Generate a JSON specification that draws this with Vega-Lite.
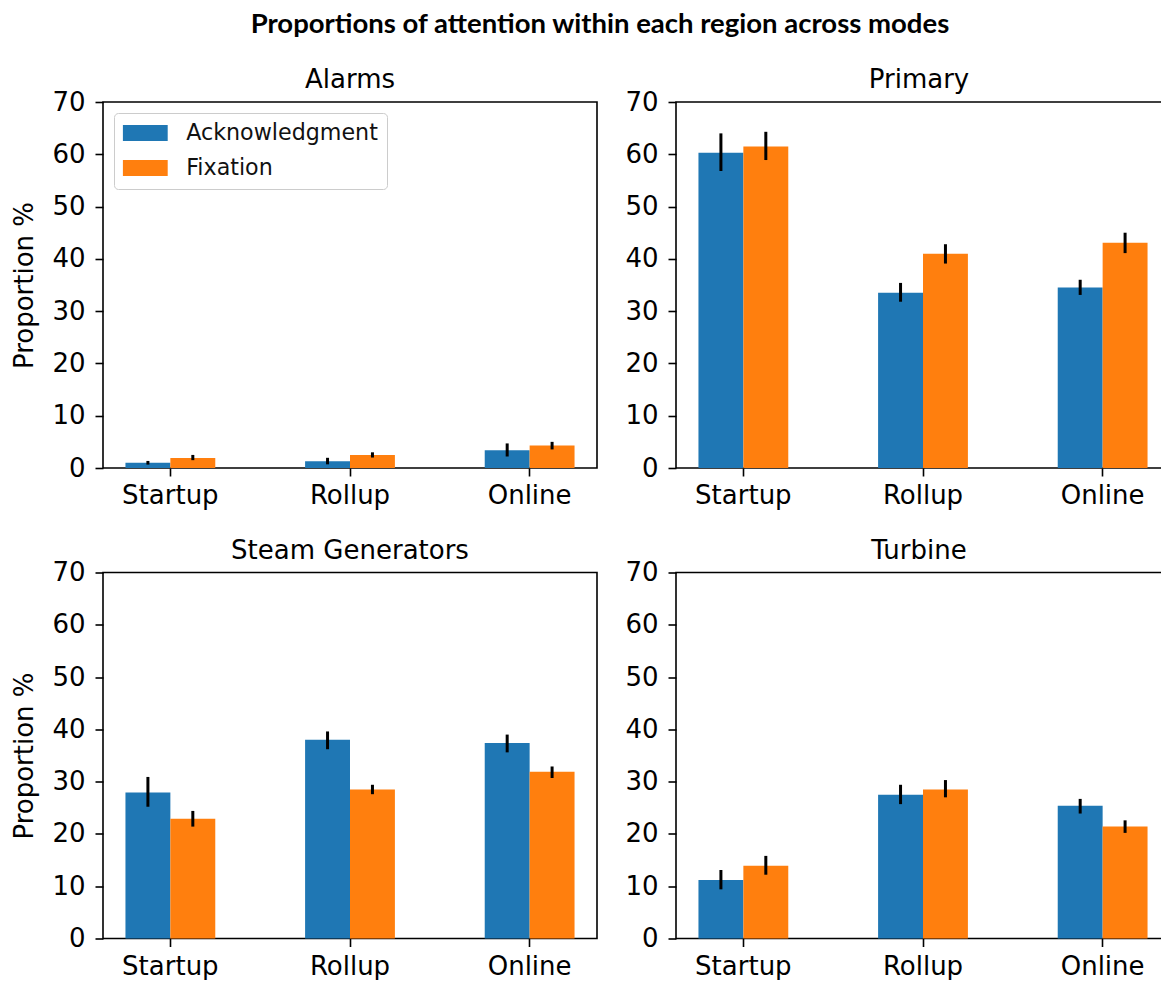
{
  "$schema": "https://vega.github.io/schema/vega-lite/v6.json",
  "padding": {"left": 11, "top": 10, "right": 0, "bottom": 0},
  "background": "white",
  "title": {
    "text": "Proportions of attention within each region across modes",
    "font": "Lato",
    "fontWeight": "bold",
    "fontSize": 27.5,
    "color": "black",
    "anchor": "middle",
    "frame": "bounds",
    "baseline": "alphabetic",
    "dx": 9,
    "offset": 6
  },
  "data": {
    "values": [
      {"region": "Alarms", "mode": "Startup", "measure": "Acknowledgment", "value": 1.0, "low": 0.65, "high": 1.35},
      {"region": "Alarms", "mode": "Startup", "measure": "Fixation", "value": 1.9, "low": 1.5, "high": 2.5},
      {"region": "Alarms", "mode": "Rollup", "measure": "Acknowledgment", "value": 1.3, "low": 0.7, "high": 1.95},
      {"region": "Alarms", "mode": "Rollup", "measure": "Fixation", "value": 2.5, "low": 2.0, "high": 3.0},
      {"region": "Alarms", "mode": "Online", "measure": "Acknowledgment", "value": 3.4, "low": 2.2, "high": 4.7},
      {"region": "Alarms", "mode": "Online", "measure": "Fixation", "value": 4.3, "low": 3.55, "high": 5.0},
      {"region": "Primary", "mode": "Startup", "measure": "Acknowledgment", "value": 60.3, "low": 56.8, "high": 64.0},
      {"region": "Primary", "mode": "Startup", "measure": "Fixation", "value": 61.5, "low": 58.9, "high": 64.3},
      {"region": "Primary", "mode": "Rollup", "measure": "Acknowledgment", "value": 33.5, "low": 31.8, "high": 35.4},
      {"region": "Primary", "mode": "Rollup", "measure": "Fixation", "value": 41.0, "low": 39.1, "high": 42.8},
      {"region": "Primary", "mode": "Online", "measure": "Acknowledgment", "value": 34.5, "low": 33.1, "high": 36.0},
      {"region": "Primary", "mode": "Online", "measure": "Fixation", "value": 43.1, "low": 41.1, "high": 45.0},
      {"region": "Steam Generators", "mode": "Startup", "measure": "Acknowledgment", "value": 27.9, "low": 25.2, "high": 30.9},
      {"region": "Steam Generators", "mode": "Startup", "measure": "Fixation", "value": 22.9, "low": 21.4, "high": 24.4},
      {"region": "Steam Generators", "mode": "Rollup", "measure": "Acknowledgment", "value": 38.0, "low": 36.2, "high": 39.6},
      {"region": "Steam Generators", "mode": "Rollup", "measure": "Fixation", "value": 28.5, "low": 27.6, "high": 29.4},
      {"region": "Steam Generators", "mode": "Online", "measure": "Acknowledgment", "value": 37.4, "low": 35.6, "high": 39.0},
      {"region": "Steam Generators", "mode": "Online", "measure": "Fixation", "value": 31.9, "low": 30.7, "high": 32.9},
      {"region": "Turbine", "mode": "Startup", "measure": "Acknowledgment", "value": 11.2, "low": 9.4, "high": 13.1},
      {"region": "Turbine", "mode": "Startup", "measure": "Fixation", "value": 13.9, "low": 12.2, "high": 15.8},
      {"region": "Turbine", "mode": "Rollup", "measure": "Acknowledgment", "value": 27.5, "low": 25.7, "high": 29.4},
      {"region": "Turbine", "mode": "Rollup", "measure": "Fixation", "value": 28.5, "low": 27.0, "high": 30.3},
      {"region": "Turbine", "mode": "Online", "measure": "Acknowledgment", "value": 25.4, "low": 23.9, "high": 26.7},
      {"region": "Turbine", "mode": "Online", "measure": "Fixation", "value": 21.4, "low": 20.2, "high": 22.6}
    ]
  },
  "columns": 2,
  "spacing": {"row": 26.5, "column": 26},
  "resolve": {"scale": {"x": "independent", "y": "independent", "color": "independent"}},
  "concat": [
    {
      "title": "Alarms",
      "width": 494,
      "height": 366,
      "transform": [{"filter": {"field": "region", "equal": "Alarms"}}],
      "encoding": {
        "x": {"field": "mode", "type": "nominal", "sort": ["Startup", "Rollup", "Online"], "scale": {"paddingInner": 0.5, "paddingOuter": 0.125}, "axis": {"title": null}},
        "xOffset": {"field": "measure", "type": "nominal", "sort": ["Acknowledgment", "Fixation"], "scale": {"paddingInner": 0, "paddingOuter": 0}}
      },
      "layer": [
        {
          "mark": {"type": "bar"},
          "encoding": {
            "y": {"field": "value", "type": "quantitative", "scale": {"domain": [0, 70], "nice": false}, "axis": {"title": "Proportion %", "values": [0, 10, 20, 30, 40, 50, 60, 70]}},
            "color": {"field": "measure", "type": "nominal", "sort": ["Acknowledgment", "Fixation"], "scale": {"domain": ["Acknowledgment", "Fixation"], "range": ["#1f77b4", "#ff7f0e"]},
              "legend": {"orient": "top-left", "offset": 11, "title": null}}
          }
        },
        {
          "mark": {"type": "rule", "color": "black", "strokeWidth": 3},
          "encoding": {
            "y": {"field": "low", "type": "quantitative"},
            "y2": {"field": "high"}
          }
        }
      ]
    },
    {
      "title": "Primary",
      "width": 486,
      "height": 366,
      "transform": [{"filter": {"field": "region", "equal": "Primary"}}],
      "encoding": {
        "x": {"field": "mode", "type": "nominal", "sort": ["Startup", "Rollup", "Online"], "scale": {"paddingInner": 0.5, "paddingOuter": 0.125, "range": [0, 494]}, "axis": {"title": null}},
        "xOffset": {"field": "measure", "type": "nominal", "sort": ["Acknowledgment", "Fixation"], "scale": {"paddingInner": 0, "paddingOuter": 0}}
      },
      "layer": [
        {
          "mark": {"type": "bar"},
          "encoding": {
            "y": {"field": "value", "type": "quantitative", "scale": {"domain": [0, 70], "nice": false}, "axis": {"title": null, "values": [0, 10, 20, 30, 40, 50, 60, 70]}},
            "color": {"field": "measure", "type": "nominal", "sort": ["Acknowledgment", "Fixation"], "scale": {"domain": ["Acknowledgment", "Fixation"], "range": ["#1f77b4", "#ff7f0e"]}, "legend": null}
          }
        },
        {
          "mark": {"type": "rule", "color": "black", "strokeWidth": 3},
          "encoding": {
            "y": {"field": "low", "type": "quantitative"},
            "y2": {"field": "high"}
          }
        }
      ]
    },
    {
      "title": "Steam Generators",
      "width": 494,
      "height": 366,
      "transform": [{"filter": {"field": "region", "equal": "Steam Generators"}}],
      "encoding": {
        "x": {"field": "mode", "type": "nominal", "sort": ["Startup", "Rollup", "Online"], "scale": {"paddingInner": 0.5, "paddingOuter": 0.125}, "axis": {"title": null}},
        "xOffset": {"field": "measure", "type": "nominal", "sort": ["Acknowledgment", "Fixation"], "scale": {"paddingInner": 0, "paddingOuter": 0}}
      },
      "layer": [
        {
          "mark": {"type": "bar"},
          "encoding": {
            "y": {"field": "value", "type": "quantitative", "scale": {"domain": [0, 70], "nice": false}, "axis": {"title": "Proportion %", "values": [0, 10, 20, 30, 40, 50, 60, 70]}},
            "color": {"field": "measure", "type": "nominal", "sort": ["Acknowledgment", "Fixation"], "scale": {"domain": ["Acknowledgment", "Fixation"], "range": ["#1f77b4", "#ff7f0e"]}, "legend": null}
          }
        },
        {
          "mark": {"type": "rule", "color": "black", "strokeWidth": 3},
          "encoding": {
            "y": {"field": "low", "type": "quantitative"},
            "y2": {"field": "high"}
          }
        }
      ]
    },
    {
      "title": "Turbine",
      "width": 486,
      "height": 366,
      "transform": [{"filter": {"field": "region", "equal": "Turbine"}}],
      "encoding": {
        "x": {"field": "mode", "type": "nominal", "sort": ["Startup", "Rollup", "Online"], "scale": {"paddingInner": 0.5, "paddingOuter": 0.125, "range": [0, 494]}, "axis": {"title": null}},
        "xOffset": {"field": "measure", "type": "nominal", "sort": ["Acknowledgment", "Fixation"], "scale": {"paddingInner": 0, "paddingOuter": 0}}
      },
      "layer": [
        {
          "mark": {"type": "bar"},
          "encoding": {
            "y": {"field": "value", "type": "quantitative", "scale": {"domain": [0, 70], "nice": false}, "axis": {"title": null, "values": [0, 10, 20, 30, 40, 50, 60, 70]}},
            "color": {"field": "measure", "type": "nominal", "sort": ["Acknowledgment", "Fixation"], "scale": {"domain": ["Acknowledgment", "Fixation"], "range": ["#1f77b4", "#ff7f0e"]}, "legend": null}
          }
        },
        {
          "mark": {"type": "rule", "color": "black", "strokeWidth": 3},
          "encoding": {
            "y": {"field": "low", "type": "quantitative"},
            "y2": {"field": "high"}
          }
        }
      ]
    }
  ],
  "config": {
    "font": "DejaVu Sans",
    "view": {"stroke": "black", "strokeWidth": 1.6},
    "bar": {"stroke": null},
    "title": {"fontSize": 26, "fontWeight": "normal", "color": "black", "baseline": "alphabetic", "offset": -4, "frame": "group"},
    "axis": {
      "domain": false,
      "grid": false,
      "ticks": true,
      "tickSize": 8,
      "tickColor": "black",
      "tickWidth": 1.6,
      "labelFontSize": 26,
      "labelColor": "black",
      "labelPadding": 10,
      "titleFontSize": 26,
      "titleFontWeight": "normal",
      "titleColor": "black",
      "titlePadding": 14
    },
    "axisX": {"labelAngle": 0, "labelBaseline": "alphabetic", "labelPadding": 27.5},
    "legend": {
      "symbolType": "M-1.4,-1H4.2V1H-1.4Z",
      "symbolSize": 256,
      "symbolStrokeWidth": 0,
      "labelFontSize": 22.2,
      "labelColor": "#111",
      "labelLimit": 400,
      "labelOffset": 41,
      "padding": 9,
      "rowPadding": 12,
      "strokeColor": "#cccccc",
      "fillColor": "white",
      "cornerRadius": 4
    }
  }
}
